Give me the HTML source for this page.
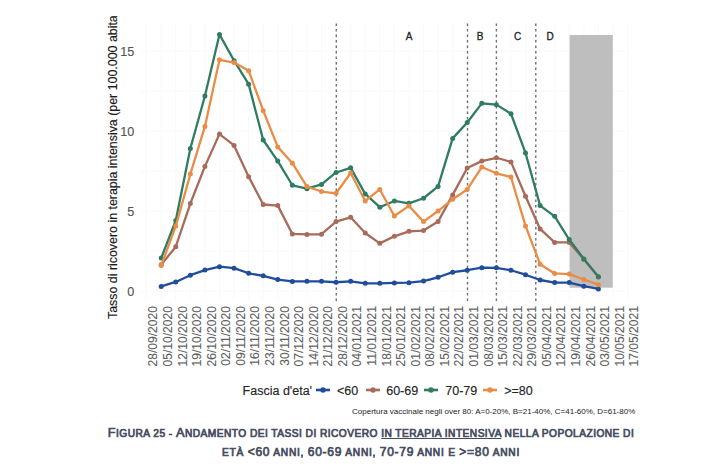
<!DOCTYPE html>
<html><head><meta charset="utf-8">
<style>
html,body{margin:0;padding:0;background:#fff;}
body{width:720px;height:473px;position:relative;overflow:hidden;font-family:"Liberation Sans",sans-serif;}
svg{position:absolute;left:0;top:0;}
svg text{font-family:"Liberation Sans",sans-serif;}
.ytitle{position:absolute;left:0;top:16px;width:140px;height:310px;overflow:hidden;}
.ytitle span{position:absolute;white-space:nowrap;font-size:12.4px;color:#1a1a1a;transform-origin:0 0;transform:rotate(-90deg);-webkit-text-stroke:0.15px #1a1a1a;left:106px;top:302.6px;}
.legend{position:absolute;top:383.8px;left:0;width:720px;height:18px;font-size:12.5px;color:#262626;-webkit-text-stroke:0.15px #262626;}
.legend span{position:absolute;top:0;white-space:nowrap;}
.note{position:absolute;left:352px;top:407px;font-size:8px;color:#222;white-space:nowrap;}
.cap{position:absolute;left:0;width:742px;text-align:center;font-weight:normal;-webkit-text-stroke:0.7px #464c60;color:#464c60;white-space:nowrap;line-height:16px;}
.cap .B{font-size:12.8px;letter-spacing:0.45px;}
.cap .s{font-size:10.2px;}
#cap1 .s{letter-spacing:0.45px;}
#cap2 .s{letter-spacing:0.75px;}
.cap .d{font-size:12px;}
.cap u{text-decoration:underline;}
</style></head><body>
<svg width="720" height="473" viewBox="0 0 720 473">
<line x1="146.63" y1="24.0" x2="146.63" y2="300.0" stroke="#f9f9f9" stroke-width="1"/>
<line x1="161.20" y1="24.0" x2="161.20" y2="300.0" stroke="#f9f9f9" stroke-width="1"/>
<line x1="175.77" y1="24.0" x2="175.77" y2="300.0" stroke="#f9f9f9" stroke-width="1"/>
<line x1="190.35" y1="24.0" x2="190.35" y2="300.0" stroke="#f9f9f9" stroke-width="1"/>
<line x1="204.92" y1="24.0" x2="204.92" y2="300.0" stroke="#f9f9f9" stroke-width="1"/>
<line x1="219.49" y1="24.0" x2="219.49" y2="300.0" stroke="#f9f9f9" stroke-width="1"/>
<line x1="234.06" y1="24.0" x2="234.06" y2="300.0" stroke="#f9f9f9" stroke-width="1"/>
<line x1="248.64" y1="24.0" x2="248.64" y2="300.0" stroke="#f9f9f9" stroke-width="1"/>
<line x1="263.21" y1="24.0" x2="263.21" y2="300.0" stroke="#f9f9f9" stroke-width="1"/>
<line x1="277.78" y1="24.0" x2="277.78" y2="300.0" stroke="#f9f9f9" stroke-width="1"/>
<line x1="292.36" y1="24.0" x2="292.36" y2="300.0" stroke="#f9f9f9" stroke-width="1"/>
<line x1="306.93" y1="24.0" x2="306.93" y2="300.0" stroke="#f9f9f9" stroke-width="1"/>
<line x1="321.50" y1="24.0" x2="321.50" y2="300.0" stroke="#f9f9f9" stroke-width="1"/>
<line x1="336.08" y1="24.0" x2="336.08" y2="300.0" stroke="#f9f9f9" stroke-width="1"/>
<line x1="350.65" y1="24.0" x2="350.65" y2="300.0" stroke="#f9f9f9" stroke-width="1"/>
<line x1="365.22" y1="24.0" x2="365.22" y2="300.0" stroke="#f9f9f9" stroke-width="1"/>
<line x1="379.79" y1="24.0" x2="379.79" y2="300.0" stroke="#f9f9f9" stroke-width="1"/>
<line x1="394.37" y1="24.0" x2="394.37" y2="300.0" stroke="#f9f9f9" stroke-width="1"/>
<line x1="408.94" y1="24.0" x2="408.94" y2="300.0" stroke="#f9f9f9" stroke-width="1"/>
<line x1="423.51" y1="24.0" x2="423.51" y2="300.0" stroke="#f9f9f9" stroke-width="1"/>
<line x1="438.09" y1="24.0" x2="438.09" y2="300.0" stroke="#f9f9f9" stroke-width="1"/>
<line x1="452.66" y1="24.0" x2="452.66" y2="300.0" stroke="#f9f9f9" stroke-width="1"/>
<line x1="467.23" y1="24.0" x2="467.23" y2="300.0" stroke="#f9f9f9" stroke-width="1"/>
<line x1="481.81" y1="24.0" x2="481.81" y2="300.0" stroke="#f9f9f9" stroke-width="1"/>
<line x1="496.38" y1="24.0" x2="496.38" y2="300.0" stroke="#f9f9f9" stroke-width="1"/>
<line x1="510.95" y1="24.0" x2="510.95" y2="300.0" stroke="#f9f9f9" stroke-width="1"/>
<line x1="525.52" y1="24.0" x2="525.52" y2="300.0" stroke="#f9f9f9" stroke-width="1"/>
<line x1="540.10" y1="24.0" x2="540.10" y2="300.0" stroke="#f9f9f9" stroke-width="1"/>
<line x1="554.67" y1="24.0" x2="554.67" y2="300.0" stroke="#f9f9f9" stroke-width="1"/>
<line x1="569.24" y1="24.0" x2="569.24" y2="300.0" stroke="#f9f9f9" stroke-width="1"/>
<line x1="583.82" y1="24.0" x2="583.82" y2="300.0" stroke="#f9f9f9" stroke-width="1"/>
<line x1="598.39" y1="24.0" x2="598.39" y2="300.0" stroke="#f9f9f9" stroke-width="1"/>
<line x1="612.96" y1="24.0" x2="612.96" y2="300.0" stroke="#f9f9f9" stroke-width="1"/>
<line x1="627.54" y1="24.0" x2="627.54" y2="300.0" stroke="#f9f9f9" stroke-width="1"/>
<line x1="140.0" y1="291.20" x2="628.0" y2="291.20" stroke="#f9f9f9" stroke-width="1"/>
<line x1="140.0" y1="251.20" x2="628.0" y2="251.20" stroke="#f9f9f9" stroke-width="1"/>
<line x1="140.0" y1="211.20" x2="628.0" y2="211.20" stroke="#f9f9f9" stroke-width="1"/>
<line x1="140.0" y1="171.20" x2="628.0" y2="171.20" stroke="#f9f9f9" stroke-width="1"/>
<line x1="140.0" y1="131.20" x2="628.0" y2="131.20" stroke="#f9f9f9" stroke-width="1"/>
<line x1="140.0" y1="91.20" x2="628.0" y2="91.20" stroke="#f9f9f9" stroke-width="1"/>
<line x1="140.0" y1="51.20" x2="628.0" y2="51.20" stroke="#f9f9f9" stroke-width="1"/>
<line x1="336.3" y1="23.5" x2="336.3" y2="302" stroke="#707070" stroke-width="1.4" stroke-dasharray="2.5 3.0"/>
<line x1="467.5" y1="23.5" x2="467.5" y2="302" stroke="#707070" stroke-width="1.4" stroke-dasharray="2.5 3.0"/>
<line x1="496.4" y1="23.5" x2="496.4" y2="302" stroke="#707070" stroke-width="1.4" stroke-dasharray="2.5 3.0"/>
<line x1="535.8" y1="23.5" x2="535.8" y2="302" stroke="#707070" stroke-width="1.4" stroke-dasharray="2.5 3.0"/>
<text x="409" y="40" font-size="10" fill="#222" stroke="#222" stroke-width="0.3" text-anchor="middle">A</text>
<text x="480" y="40" font-size="10" fill="#222" stroke="#222" stroke-width="0.3" text-anchor="middle">B</text>
<text x="517.5" y="40" font-size="10" fill="#222" stroke="#222" stroke-width="0.3" text-anchor="middle">C</text>
<text x="550" y="40" font-size="10" fill="#222" stroke="#222" stroke-width="0.3" text-anchor="middle">D</text>
<rect x="569.6" y="35.0" width="43.2" height="252.7" fill="#bebebe"/>
<polyline points="161.20,286.40 175.77,281.92 190.35,275.20 204.92,270.08 219.49,266.72 234.06,268.16 248.64,273.28 263.21,275.84 277.78,279.52 292.36,281.44 306.93,281.28 321.50,281.28 336.08,282.24 350.65,281.28 365.22,283.36 379.79,283.36 394.37,282.88 408.94,282.72 423.51,281.12 438.09,277.28 452.66,272.16 467.23,270.24 481.81,267.68 496.38,267.84 510.95,270.24 525.52,274.72 540.10,280.00 554.67,282.56 569.24,282.56 583.82,286.24 598.39,288.96" fill="none" stroke="#204c9c" stroke-width="2.3" stroke-linejoin="round"/><circle cx="161.20" cy="286.40" r="2.5" fill="#204c9c"/><circle cx="175.77" cy="281.92" r="2.5" fill="#204c9c"/><circle cx="190.35" cy="275.20" r="2.5" fill="#204c9c"/><circle cx="204.92" cy="270.08" r="2.5" fill="#204c9c"/><circle cx="219.49" cy="266.72" r="2.5" fill="#204c9c"/><circle cx="234.06" cy="268.16" r="2.5" fill="#204c9c"/><circle cx="248.64" cy="273.28" r="2.5" fill="#204c9c"/><circle cx="263.21" cy="275.84" r="2.5" fill="#204c9c"/><circle cx="277.78" cy="279.52" r="2.5" fill="#204c9c"/><circle cx="292.36" cy="281.44" r="2.5" fill="#204c9c"/><circle cx="306.93" cy="281.28" r="2.5" fill="#204c9c"/><circle cx="321.50" cy="281.28" r="2.5" fill="#204c9c"/><circle cx="336.08" cy="282.24" r="2.5" fill="#204c9c"/><circle cx="350.65" cy="281.28" r="2.5" fill="#204c9c"/><circle cx="365.22" cy="283.36" r="2.5" fill="#204c9c"/><circle cx="379.79" cy="283.36" r="2.5" fill="#204c9c"/><circle cx="394.37" cy="282.88" r="2.5" fill="#204c9c"/><circle cx="408.94" cy="282.72" r="2.5" fill="#204c9c"/><circle cx="423.51" cy="281.12" r="2.5" fill="#204c9c"/><circle cx="438.09" cy="277.28" r="2.5" fill="#204c9c"/><circle cx="452.66" cy="272.16" r="2.5" fill="#204c9c"/><circle cx="467.23" cy="270.24" r="2.5" fill="#204c9c"/><circle cx="481.81" cy="267.68" r="2.5" fill="#204c9c"/><circle cx="496.38" cy="267.84" r="2.5" fill="#204c9c"/><circle cx="510.95" cy="270.24" r="2.5" fill="#204c9c"/><circle cx="525.52" cy="274.72" r="2.5" fill="#204c9c"/><circle cx="540.10" cy="280.00" r="2.5" fill="#204c9c"/><circle cx="554.67" cy="282.56" r="2.5" fill="#204c9c"/><circle cx="569.24" cy="282.56" r="2.5" fill="#204c9c"/><circle cx="583.82" cy="286.24" r="2.5" fill="#204c9c"/><circle cx="598.39" cy="288.96" r="2.5" fill="#204c9c"/>
<polyline points="161.20,264.80 175.77,246.72 190.35,203.52 204.92,166.40 219.49,134.08 234.06,145.44 248.64,176.64 263.21,204.48 277.78,205.60 292.36,233.92 306.93,234.40 321.50,234.24 336.08,221.60 350.65,217.28 365.22,232.96 379.79,243.36 394.37,236.32 408.94,231.36 423.51,230.56 438.09,221.60 452.66,194.88 467.23,168.00 481.81,161.12 496.38,157.76 510.95,161.92 525.52,196.32 540.10,228.96 554.67,242.40 569.24,242.40 583.82,259.20 598.39,277.12" fill="none" stroke="#a96b59" stroke-width="2.3" stroke-linejoin="round"/><circle cx="161.20" cy="264.80" r="2.5" fill="#a96b59"/><circle cx="175.77" cy="246.72" r="2.5" fill="#a96b59"/><circle cx="190.35" cy="203.52" r="2.5" fill="#a96b59"/><circle cx="204.92" cy="166.40" r="2.5" fill="#a96b59"/><circle cx="219.49" cy="134.08" r="2.5" fill="#a96b59"/><circle cx="234.06" cy="145.44" r="2.5" fill="#a96b59"/><circle cx="248.64" cy="176.64" r="2.5" fill="#a96b59"/><circle cx="263.21" cy="204.48" r="2.5" fill="#a96b59"/><circle cx="277.78" cy="205.60" r="2.5" fill="#a96b59"/><circle cx="292.36" cy="233.92" r="2.5" fill="#a96b59"/><circle cx="306.93" cy="234.40" r="2.5" fill="#a96b59"/><circle cx="321.50" cy="234.24" r="2.5" fill="#a96b59"/><circle cx="336.08" cy="221.60" r="2.5" fill="#a96b59"/><circle cx="350.65" cy="217.28" r="2.5" fill="#a96b59"/><circle cx="365.22" cy="232.96" r="2.5" fill="#a96b59"/><circle cx="379.79" cy="243.36" r="2.5" fill="#a96b59"/><circle cx="394.37" cy="236.32" r="2.5" fill="#a96b59"/><circle cx="408.94" cy="231.36" r="2.5" fill="#a96b59"/><circle cx="423.51" cy="230.56" r="2.5" fill="#a96b59"/><circle cx="438.09" cy="221.60" r="2.5" fill="#a96b59"/><circle cx="452.66" cy="194.88" r="2.5" fill="#a96b59"/><circle cx="467.23" cy="168.00" r="2.5" fill="#a96b59"/><circle cx="481.81" cy="161.12" r="2.5" fill="#a96b59"/><circle cx="496.38" cy="157.76" r="2.5" fill="#a96b59"/><circle cx="510.95" cy="161.92" r="2.5" fill="#a96b59"/><circle cx="525.52" cy="196.32" r="2.5" fill="#a96b59"/><circle cx="540.10" cy="228.96" r="2.5" fill="#a96b59"/><circle cx="554.67" cy="242.40" r="2.5" fill="#a96b59"/><circle cx="569.24" cy="242.40" r="2.5" fill="#a96b59"/><circle cx="583.82" cy="259.20" r="2.5" fill="#a96b59"/><circle cx="598.39" cy="277.12" r="2.5" fill="#a96b59"/>
<polyline points="161.20,258.08 175.77,220.48 190.35,148.48 204.92,96.00 219.49,34.56 234.06,60.64 248.64,84.16 263.21,140.00 277.78,161.12 292.36,185.28 306.93,188.64 321.50,184.48 336.08,172.48 350.65,167.84 365.22,193.92 379.79,207.20 394.37,200.96 408.94,203.36 423.51,198.24 438.09,186.40 452.66,138.40 467.23,122.56 481.81,103.36 496.38,104.64 510.95,113.76 525.52,152.96 540.10,205.60 554.67,216.32 569.24,239.52 583.82,258.88 598.39,276.64" fill="none" stroke="#307c60" stroke-width="2.3" stroke-linejoin="round"/><circle cx="161.20" cy="258.08" r="2.5" fill="#307c60"/><circle cx="175.77" cy="220.48" r="2.5" fill="#307c60"/><circle cx="190.35" cy="148.48" r="2.5" fill="#307c60"/><circle cx="204.92" cy="96.00" r="2.5" fill="#307c60"/><circle cx="219.49" cy="34.56" r="2.5" fill="#307c60"/><circle cx="234.06" cy="60.64" r="2.5" fill="#307c60"/><circle cx="248.64" cy="84.16" r="2.5" fill="#307c60"/><circle cx="263.21" cy="140.00" r="2.5" fill="#307c60"/><circle cx="277.78" cy="161.12" r="2.5" fill="#307c60"/><circle cx="292.36" cy="185.28" r="2.5" fill="#307c60"/><circle cx="306.93" cy="188.64" r="2.5" fill="#307c60"/><circle cx="321.50" cy="184.48" r="2.5" fill="#307c60"/><circle cx="336.08" cy="172.48" r="2.5" fill="#307c60"/><circle cx="350.65" cy="167.84" r="2.5" fill="#307c60"/><circle cx="365.22" cy="193.92" r="2.5" fill="#307c60"/><circle cx="379.79" cy="207.20" r="2.5" fill="#307c60"/><circle cx="394.37" cy="200.96" r="2.5" fill="#307c60"/><circle cx="408.94" cy="203.36" r="2.5" fill="#307c60"/><circle cx="423.51" cy="198.24" r="2.5" fill="#307c60"/><circle cx="438.09" cy="186.40" r="2.5" fill="#307c60"/><circle cx="452.66" cy="138.40" r="2.5" fill="#307c60"/><circle cx="467.23" cy="122.56" r="2.5" fill="#307c60"/><circle cx="481.81" cy="103.36" r="2.5" fill="#307c60"/><circle cx="496.38" cy="104.64" r="2.5" fill="#307c60"/><circle cx="510.95" cy="113.76" r="2.5" fill="#307c60"/><circle cx="525.52" cy="152.96" r="2.5" fill="#307c60"/><circle cx="540.10" cy="205.60" r="2.5" fill="#307c60"/><circle cx="554.67" cy="216.32" r="2.5" fill="#307c60"/><circle cx="569.24" cy="239.52" r="2.5" fill="#307c60"/><circle cx="583.82" cy="258.88" r="2.5" fill="#307c60"/><circle cx="598.39" cy="276.64" r="2.5" fill="#307c60"/>
<polyline points="161.20,265.60 175.77,226.08 190.35,174.08 204.92,126.40 219.49,59.84 234.06,62.56 248.64,70.72 263.21,110.72 277.78,146.88 292.36,163.20 306.93,186.56 321.50,191.52 336.08,193.28 350.65,172.96 365.22,200.96 379.79,189.44 394.37,216.00 408.94,205.92 423.51,221.60 438.09,211.04 452.66,199.20 467.23,189.44 481.81,167.04 496.38,173.28 510.95,176.96 525.52,225.92 540.10,264.16 554.67,273.44 569.24,274.08 583.82,279.52 598.39,284.64" fill="none" stroke="#e98d46" stroke-width="2.3" stroke-linejoin="round"/><circle cx="161.20" cy="265.60" r="2.5" fill="#e98d46"/><circle cx="175.77" cy="226.08" r="2.5" fill="#e98d46"/><circle cx="190.35" cy="174.08" r="2.5" fill="#e98d46"/><circle cx="204.92" cy="126.40" r="2.5" fill="#e98d46"/><circle cx="219.49" cy="59.84" r="2.5" fill="#e98d46"/><circle cx="234.06" cy="62.56" r="2.5" fill="#e98d46"/><circle cx="248.64" cy="70.72" r="2.5" fill="#e98d46"/><circle cx="263.21" cy="110.72" r="2.5" fill="#e98d46"/><circle cx="277.78" cy="146.88" r="2.5" fill="#e98d46"/><circle cx="292.36" cy="163.20" r="2.5" fill="#e98d46"/><circle cx="306.93" cy="186.56" r="2.5" fill="#e98d46"/><circle cx="321.50" cy="191.52" r="2.5" fill="#e98d46"/><circle cx="336.08" cy="193.28" r="2.5" fill="#e98d46"/><circle cx="350.65" cy="172.96" r="2.5" fill="#e98d46"/><circle cx="365.22" cy="200.96" r="2.5" fill="#e98d46"/><circle cx="379.79" cy="189.44" r="2.5" fill="#e98d46"/><circle cx="394.37" cy="216.00" r="2.5" fill="#e98d46"/><circle cx="408.94" cy="205.92" r="2.5" fill="#e98d46"/><circle cx="423.51" cy="221.60" r="2.5" fill="#e98d46"/><circle cx="438.09" cy="211.04" r="2.5" fill="#e98d46"/><circle cx="452.66" cy="199.20" r="2.5" fill="#e98d46"/><circle cx="467.23" cy="189.44" r="2.5" fill="#e98d46"/><circle cx="481.81" cy="167.04" r="2.5" fill="#e98d46"/><circle cx="496.38" cy="173.28" r="2.5" fill="#e98d46"/><circle cx="510.95" cy="176.96" r="2.5" fill="#e98d46"/><circle cx="525.52" cy="225.92" r="2.5" fill="#e98d46"/><circle cx="540.10" cy="264.16" r="2.5" fill="#e98d46"/><circle cx="554.67" cy="273.44" r="2.5" fill="#e98d46"/><circle cx="569.24" cy="274.08" r="2.5" fill="#e98d46"/><circle cx="583.82" cy="279.52" r="2.5" fill="#e98d46"/><circle cx="598.39" cy="284.64" r="2.5" fill="#e98d46"/>
<text x="134.3" y="295.50" font-size="12.6" fill="#555" stroke="#555" stroke-width="0.15" text-anchor="end">0</text>
<text x="134.3" y="215.50" font-size="12.6" fill="#555" stroke="#555" stroke-width="0.15" text-anchor="end">5</text>
<text x="134.3" y="135.50" font-size="12.6" fill="#555" stroke="#555" stroke-width="0.15" text-anchor="end">10</text>
<text x="134.3" y="55.50" font-size="12.6" fill="#555" stroke="#555" stroke-width="0.15" text-anchor="end">15</text>
<text transform="translate(157.43,306) rotate(-90)" font-size="12.1" fill="#606060" stroke="#606060" stroke-width="0.1" text-anchor="end">28/09/2020</text>
<text transform="translate(172.00,306) rotate(-90)" font-size="12.1" fill="#606060" stroke="#606060" stroke-width="0.1" text-anchor="end">05/10/2020</text>
<text transform="translate(186.57,306) rotate(-90)" font-size="12.1" fill="#606060" stroke="#606060" stroke-width="0.1" text-anchor="end">12/10/2020</text>
<text transform="translate(201.15,306) rotate(-90)" font-size="12.1" fill="#606060" stroke="#606060" stroke-width="0.1" text-anchor="end">19/10/2020</text>
<text transform="translate(215.72,306) rotate(-90)" font-size="12.1" fill="#606060" stroke="#606060" stroke-width="0.1" text-anchor="end">26/10/2020</text>
<text transform="translate(230.29,306) rotate(-90)" font-size="12.1" fill="#606060" stroke="#606060" stroke-width="0.1" text-anchor="end">02/11/2020</text>
<text transform="translate(244.87,306) rotate(-90)" font-size="12.1" fill="#606060" stroke="#606060" stroke-width="0.1" text-anchor="end">09/11/2020</text>
<text transform="translate(259.44,306) rotate(-90)" font-size="12.1" fill="#606060" stroke="#606060" stroke-width="0.1" text-anchor="end">16/11/2020</text>
<text transform="translate(274.01,306) rotate(-90)" font-size="12.1" fill="#606060" stroke="#606060" stroke-width="0.1" text-anchor="end">23/11/2020</text>
<text transform="translate(288.58,306) rotate(-90)" font-size="12.1" fill="#606060" stroke="#606060" stroke-width="0.1" text-anchor="end">30/11/2020</text>
<text transform="translate(303.16,306) rotate(-90)" font-size="12.1" fill="#606060" stroke="#606060" stroke-width="0.1" text-anchor="end">07/12/2020</text>
<text transform="translate(317.73,306) rotate(-90)" font-size="12.1" fill="#606060" stroke="#606060" stroke-width="0.1" text-anchor="end">14/12/2020</text>
<text transform="translate(332.30,306) rotate(-90)" font-size="12.1" fill="#606060" stroke="#606060" stroke-width="0.1" text-anchor="end">21/12/2020</text>
<text transform="translate(346.88,306) rotate(-90)" font-size="12.1" fill="#606060" stroke="#606060" stroke-width="0.1" text-anchor="end">28/12/2020</text>
<text transform="translate(361.45,306) rotate(-90)" font-size="12.1" fill="#606060" stroke="#606060" stroke-width="0.1" text-anchor="end">04/01/2021</text>
<text transform="translate(376.02,306) rotate(-90)" font-size="12.1" fill="#606060" stroke="#606060" stroke-width="0.1" text-anchor="end">11/01/2021</text>
<text transform="translate(390.59,306) rotate(-90)" font-size="12.1" fill="#606060" stroke="#606060" stroke-width="0.1" text-anchor="end">18/01/2021</text>
<text transform="translate(405.17,306) rotate(-90)" font-size="12.1" fill="#606060" stroke="#606060" stroke-width="0.1" text-anchor="end">25/01/2021</text>
<text transform="translate(419.74,306) rotate(-90)" font-size="12.1" fill="#606060" stroke="#606060" stroke-width="0.1" text-anchor="end">01/02/2021</text>
<text transform="translate(434.31,306) rotate(-90)" font-size="12.1" fill="#606060" stroke="#606060" stroke-width="0.1" text-anchor="end">08/02/2021</text>
<text transform="translate(448.89,306) rotate(-90)" font-size="12.1" fill="#606060" stroke="#606060" stroke-width="0.1" text-anchor="end">15/02/2021</text>
<text transform="translate(463.46,306) rotate(-90)" font-size="12.1" fill="#606060" stroke="#606060" stroke-width="0.1" text-anchor="end">22/02/2021</text>
<text transform="translate(478.03,306) rotate(-90)" font-size="12.1" fill="#606060" stroke="#606060" stroke-width="0.1" text-anchor="end">01/03/2021</text>
<text transform="translate(492.61,306) rotate(-90)" font-size="12.1" fill="#606060" stroke="#606060" stroke-width="0.1" text-anchor="end">08/03/2021</text>
<text transform="translate(507.18,306) rotate(-90)" font-size="12.1" fill="#606060" stroke="#606060" stroke-width="0.1" text-anchor="end">15/03/2021</text>
<text transform="translate(521.75,306) rotate(-90)" font-size="12.1" fill="#606060" stroke="#606060" stroke-width="0.1" text-anchor="end">22/03/2021</text>
<text transform="translate(536.32,306) rotate(-90)" font-size="12.1" fill="#606060" stroke="#606060" stroke-width="0.1" text-anchor="end">29/03/2021</text>
<text transform="translate(550.90,306) rotate(-90)" font-size="12.1" fill="#606060" stroke="#606060" stroke-width="0.1" text-anchor="end">05/04/2021</text>
<text transform="translate(565.47,306) rotate(-90)" font-size="12.1" fill="#606060" stroke="#606060" stroke-width="0.1" text-anchor="end">12/04/2021</text>
<text transform="translate(580.04,306) rotate(-90)" font-size="12.1" fill="#606060" stroke="#606060" stroke-width="0.1" text-anchor="end">19/04/2021</text>
<text transform="translate(594.62,306) rotate(-90)" font-size="12.1" fill="#606060" stroke="#606060" stroke-width="0.1" text-anchor="end">26/04/2021</text>
<text transform="translate(609.19,306) rotate(-90)" font-size="12.1" fill="#606060" stroke="#606060" stroke-width="0.1" text-anchor="end">03/05/2021</text>
<text transform="translate(623.76,306) rotate(-90)" font-size="12.1" fill="#606060" stroke="#606060" stroke-width="0.1" text-anchor="end">10/05/2021</text>
<text transform="translate(638.34,306) rotate(-90)" font-size="12.1" fill="#606060" stroke="#606060" stroke-width="0.1" text-anchor="end">17/05/2021</text>
</svg>
<div class="ytitle"><span>Tasso di ricovero in terapia intensiva (per 100.000 abitanti)</span></div>
<div class="legend">
<span style="left:242.6px">Fascia d'eta'</span>
<svg style="position:absolute;left:316px;top:0.2px" width="14" height="12"><line x1="0" y1="6" x2="14" y2="6" stroke="#204c9c" stroke-width="2.6"/><circle cx="7" cy="6" r="2.7" fill="#204c9c"/></svg>
<span style="left:337px">&lt;60</span>
<svg style="position:absolute;left:365.5px;top:0.2px" width="14" height="12"><line x1="0" y1="6" x2="14" y2="6" stroke="#a96b59" stroke-width="2.6"/><circle cx="7" cy="6" r="2.7" fill="#a96b59"/></svg>
<span style="left:386.2px">60-69</span>
<svg style="position:absolute;left:424px;top:0.2px" width="14" height="12"><line x1="0" y1="6" x2="14" y2="6" stroke="#307c60" stroke-width="2.6"/><circle cx="7" cy="6" r="2.7" fill="#307c60"/></svg>
<span style="left:445.3px">70-79</span>
<svg style="position:absolute;left:482.8px;top:0.2px" width="14" height="12"><line x1="0" y1="6" x2="14" y2="6" stroke="#e98d46" stroke-width="2.6"/><circle cx="7" cy="6" r="2.7" fill="#e98d46"/></svg>
<span style="left:504.2px">&gt;=80</span>
</div>
<div class="note">Copertura vaccinale negli over 80: A=0-20%, B=21-40%, C=41-60%, D=61-80%</div>
<div class="cap" id="cap1" style="top:424px"><span class="B">F</span><span class="s">IGURA 25 - </span><span class="B">A</span><span class="s">NDAMENTO DEI TASSI DI RICOVERO <u>IN TERAPIA INTENSIVA</u> NELLA POPOLAZIONE DI</span></div>
<div class="cap" id="cap2" style="top:442.5px"><span class="s">ETÀ <span class="d">&lt;60</span> ANNI, <span class="d">60-69</span> ANNI, <span class="d">70-79</span> ANNI E <span class="d">&gt;=80</span> ANNI</span></div>
</body></html>
